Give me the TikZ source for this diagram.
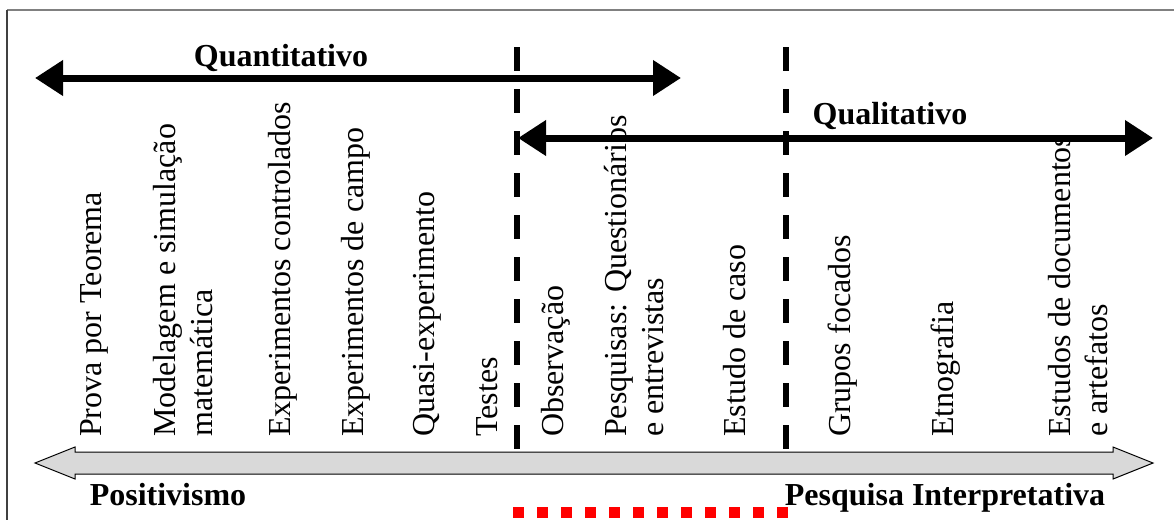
\documentclass[tikz,border=0pt]{standalone}
\usepackage{fontspec}
\setmainfont{Liberation Serif}
\usetikzlibrary{arrows.meta}
\begin{document}
\begin{tikzpicture}[x=1pt,y=-1pt,
  lbl/.style={rotate=90, anchor=base west, inner sep=0pt, font=\fontsize{32}{37}\selectfont},
  ttl/.style={anchor=base, inner sep=0pt, font=\fontsize{32}{37}\selectfont\bfseries},
  bigarrow/.style={line width=7pt, {Triangle[length=28pt,width=34pt]}-{Triangle[length=28pt,width=34pt]}},
  divider/.style={line width=5.5pt, dash pattern=on 24pt off 18pt},
  band/.style={fill=black!15, draw=black, line width=1pt, line join=miter},
  reddots/.style={red, line width=11pt, dash pattern=on 11pt off 13pt},
  frameline/.style={line width=2pt}
]
\useasboundingbox (0,0) rectangle (1174,520);

% frame
\coordinate (tl) at (7,10);
\coordinate (tr) at (1174,10);
\coordinate (bl) at (7,520);
\draw[frameline, black!50] (tl) -- (tr);
\draw[frameline, black!75] (tl) -- (bl);

% rotated labels
\node[lbl] (n1)  at (101,437)  {Prova por Teorema};
\node[lbl] (n2a) at (175,437)  {Modelagem e simulação};
\node[lbl] (n2b) at (212,437)  {matemática};
\node[lbl] (n3)  at (290,437)  {Experimentos controlados};
\node[lbl] (n4)  at (363,437)  {Experimentos de campo};
\node[lbl] (n5)  at (434,437)  {Quasi-experimento};
\node[lbl] (n6)  at (497,437)  {Testes};
\node[lbl] (n7)  at (563,437)  {Observação};
\node[lbl] (n8a) at (626,437)  {Pesquisas: Questionários};
\node[lbl] (n8b) at (663,437)  {e entrevistas};
\node[lbl] (n9)  at (745,437)  {Estudo de caso};
\node[lbl] (n10) at (850,437)  {Grupos focados};
\node[lbl] (n11) at (953,437)  {Etnografia};
\node[lbl] (n12a) at (1070,437) {Estudos de documentos};
\node[lbl] (n12b) at (1107,437) {e artefatos};

% dashed dividers
\coordinate (d1t) at (517,47);
\coordinate (d1b) at (517,449);
\coordinate (d2t) at (786,47);
\coordinate (d2b) at (786,449);
\draw[divider] (d1t) -- (d1b);
\draw[divider] (d2t) -- (d2b);

% titles
\node[ttl] (quant) at (281,66) {Quantitativo};
\node[ttl] (qual)  at (890,124) {Qualitativo};

% black arrows
\coordinate (qa1) at (35,78);
\coordinate (qa2) at (681,78);
\coordinate (qb1) at (518,138);
\coordinate (qb2) at (1153,138);
\draw[bigarrow] (qa1) -- (qa2);
\draw[bigarrow] (qb1) -- (qb2);

% gray double arrow
\draw[band] (35,463) -- (75,447) -- (75,452) -- (1113,452) -- (1113,447) -- (1153,463)
  -- (1113,479) -- (1113,474) -- (75,474) -- (75,479) -- cycle;

% bottom labels
\node[ttl] (pos) at (168,505) {Positivismo};
\node[ttl] (int) at (945,505) {Pesquisa Interpretativa};

% red dotted segment
\coordinate (r1) at (513,512);
\coordinate (r2) at (788,512);
\draw[reddots] (r1) -- (r2);
\end{tikzpicture}
\end{document}
